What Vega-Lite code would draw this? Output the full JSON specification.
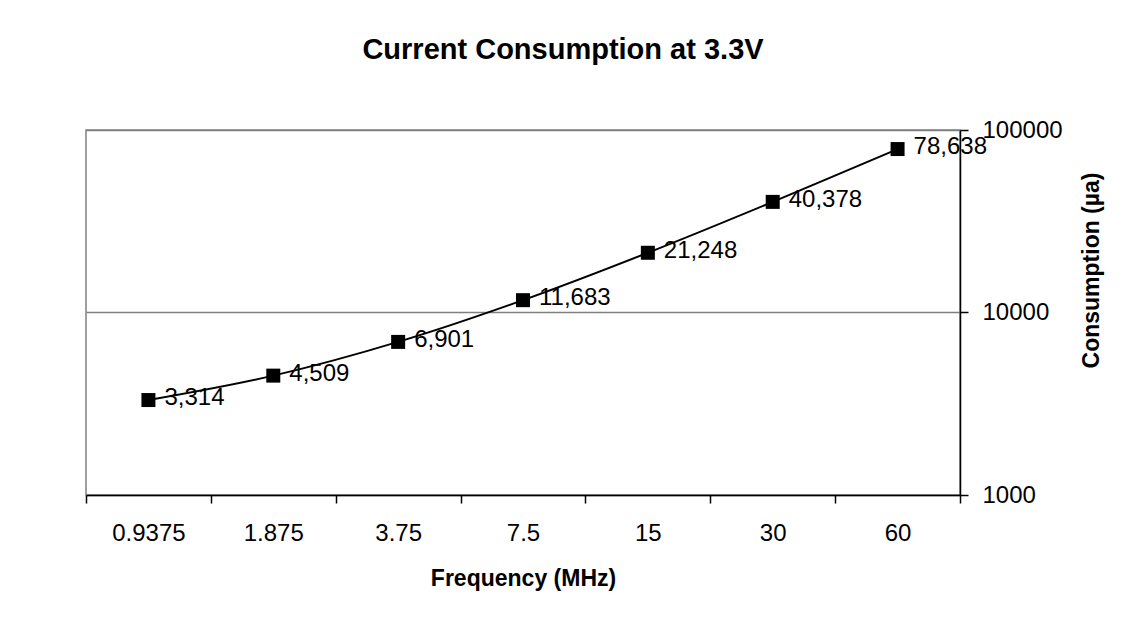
{
  "$schema": "https://vega.github.io/schema/vega-lite/v6.json",
  "width": 874,
  "height": 365,
  "autosize": {"type": "none"},
  "padding": {"left": 86, "top": 130, "right": 167, "bottom": 127},
  "background": "white",
  "title": {
    "text": "Current Consumption at 3.3V",
    "font": "Liberation Sans",
    "fontSize": 29,
    "fontWeight": "bold",
    "color": "#000000",
    "anchor": "middle",
    "baseline": "alphabetic",
    "offset": 30,
    "dx": 40
  },
  "config": {
    "view": {"stroke": "#808080", "strokeWidth": 1.5},
    "font": "Liberation Sans"
  },
  "data": {
    "values": [
      {"freq": "0.9375", "consumption": 3314},
      {"freq": "1.875", "consumption": 4509},
      {"freq": "3.75", "consumption": 6901},
      {"freq": "7.5", "consumption": 11683},
      {"freq": "15", "consumption": 21248},
      {"freq": "30", "consumption": 40378},
      {"freq": "60", "consumption": 78638}
    ]
  },
  "encoding": {
    "x": {
      "field": "freq",
      "type": "ordinal",
      "sort": null,
      "scale": {"type": "band", "paddingInner": 0, "paddingOuter": 0},
      "axis": {
        "title": "Frequency (MHz)",
        "titleFont": "Liberation Sans",
        "titleFontSize": 23,
        "titleFontWeight": "bold",
        "titleColor": "#000000",
        "titlePadding": 22,
        "labelFont": "Liberation Sans",
        "labelFontSize": 24,
        "labelColor": "#000000",
        "labelAngle": 0,
        "labelPadding": 18,
        "tickBand": "extent",
        "tickSize": 8,
        "tickColor": "#000000",
        "tickWidth": 1.5,
        "domainColor": "#000000",
        "domainWidth": 1.5,
        "grid": false
      }
    },
    "y": {
      "field": "consumption",
      "type": "quantitative",
      "scale": {"type": "log", "domain": [1000, 100000], "nice": false},
      "axis": {
        "orient": "right",
        "values": [1000, 10000, 100000],
        "format": "d",
        "title": "Consumption (µa)",
        "titleFont": "Liberation Sans",
        "titleFontSize": 23,
        "titleFontWeight": "bold",
        "titleColor": "#000000",
        "titleAngle": -90,
        "titleAlign": "center",
        "titleBaseline": "middle",
        "titleX": 131,
        "titleY": 140,
        "labelFont": "Liberation Sans",
        "labelFontSize": 24,
        "labelColor": "#000000",
        "labelPadding": 14,
        "labelBaseline": "middle",
        "tickSize": 8,
        "tickColor": "#000000",
        "tickWidth": 1.5,
        "domainColor": "#000000",
        "domainWidth": 1.5,
        "grid": true,
        "gridColor": "#808080",
        "gridWidth": 1.5
      }
    }
  },
  "layer": [
    {
      "mark": {"type": "line", "color": "#000000", "strokeWidth": 2, "interpolate": "cardinal"}
    },
    {
      "mark": {"type": "point", "shape": "square", "filled": true, "size": 196, "color": "#000000", "opacity": 1}
    },
    {
      "mark": {"type": "text", "align": "left", "baseline": "middle", "dx": 16, "dy": -2, "fontSize": 24, "font": "Liberation Sans", "color": "#000000"},
      "encoding": {
        "text": {"field": "consumption", "type": "quantitative", "format": ",d"}
      }
    }
  ]
}
